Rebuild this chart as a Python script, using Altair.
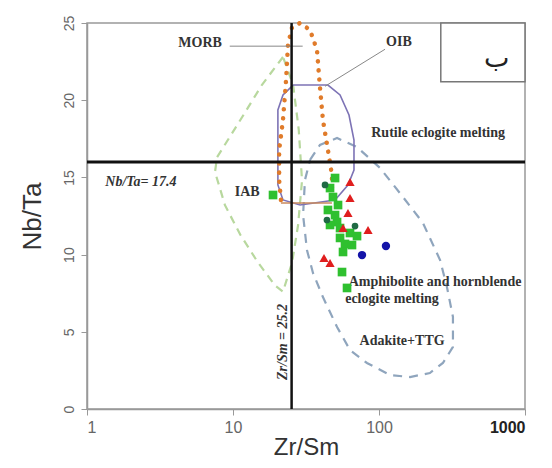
import altair as alt
import pandas as pd

# ---------------- data (Zr/Sm, Nb/Ta) ----------------
iab_x = [22.0, 15.8, 11.2, 7.77, 7.53, 8.81, 11.2, 14.8, 19.4, 22.0, 25.4, 27.9, 29.7, 28.2, 25.8, 22.0]
iab_y = [22.8, 21.0, 18.7, 16.3, 15.35, 13.2, 11.3, 9.5, 8.0, 7.6, 9.5, 11.9, 14.8, 18.1, 21.0, 22.8]

morb_x = [21.3, 20.7, 20.7, 22.0, 23.1, 23.8, 25.4, 28.8, 33.7, 37.6, 39.4, 41.3, 44.7, 47.6, 47.6]
morb_y = [13.54, 14.83, 16.77, 18.72, 21.31, 23.58, 24.74, 25.0, 24.55, 23.25, 20.85, 18.72, 16.77, 15.16, 13.54]
morb_base_x = [21.3, 47.6]
morb_base_y = [13.34, 13.34]

oib_x = [25.8, 44.7, 54.1, 62.3, 67.4, 67.4, 61.3, 50.0, 28.8, 22.0, 20.3, 20.3, 22.0, 25.8]
oib_y = [20.98, 20.98, 20.34, 19.04, 17.42, 15.48, 14.51, 13.54, 13.21, 13.54, 14.51, 19.37, 20.34, 20.98]

adk_x = [33.7, 39.4, 51.6, 70.7, 101.6, 146, 200, 262, 292, 321, 321, 274, 223, 163, 119, 82.7, 63.3, 51.6, 41.3, 35.3, 32.1, 30.2, 31.1, 33.7]
adk_y = [16.13, 17.1, 17.55, 16.97, 15.61, 13.73, 12.05, 9.65, 7.9, 5.96, 4.02, 2.98, 2.33, 2.07, 2.2, 2.98, 3.82, 5.31, 7.25, 8.81, 10.3, 12.56, 14.83, 16.13]

green_x = [18.8, 50.0, 48.4, 44.7, 50.0, 51.6, 54.1, 63.3, 70.7, 54.1, 58.5, 56.7, 55.8, 60.4, 46.2, 46.2, 65.3, 52.4]
green_y = [13.86, 14.96, 13.73, 12.89, 12.56, 12.11, 11.72, 11.40, 11.20, 11.08, 10.69, 10.17, 8.87, 7.84, 14.31, 11.92, 10.62, 13.21]
red_x = [63.3, 63.3, 61.3, 56.7, 84.1, 42.0, 46.2]
red_y = [14.70, 13.67, 12.70, 11.72, 11.59, 9.78, 9.46]
blue_x = [76.5, 111.6]
blue_y = [9.97, 10.56]
dark_x = [44.0, 68.5, 42.7]
dark_y = [12.24, 11.85, 14.51]

field_text = ["MORB", "OIB", "Rutile eclogite melting", "IAB",
              "Amphibolite and hornblende", "eclogite melting", "Adakite+TTG"]
field_tx = [5.95, 137, 254, 12.5, 242, 122.8, 144]
field_ty = [23.7, 23.77, 17.9, 14.05, 8.23, 7.12, 4.4]

ref_nbta = 16.0
ref_zrsm = 25.2
ref_text = ["Nb/Ta= 17.4", "Zr/Sm = 25.2"]
ref_tx = [2.34, 22.0]
ref_ty = [14.7, 4.34]

morb_ptr_x = [9.5, 30.0]
morb_ptr_y = [23.5, 23.5]
oib_ptr_x = [110.0, 42.7]
oib_ptr_y = [23.3, 20.9]

box_x = [265.0]
box_x2 = [1000.0]
box_y = [21.2]
box_y2 = [25.0]
box_label = ["ب"]
box_lx = [640.0]
box_ly = [22.7]

x_ticks = [1, 10, 100, 1000]
y_ticks = [0, 5, 10, 15, 20, 25]

# ---------------- helpers ----------------
xs = alt.Scale(type="log", domain=[1, 1000])
ys = alt.Scale(domain=[0, 25], nice=False, zero=False)
xaxis = alt.Axis(values=x_ticks, format="d", grid=False, tickSize=6, labelPadding=4,
                 labelFontSize=16, titlePadding=0, titleFontSize=24,
                 labelFontWeight=alt.ExprRef(expr="datum.value == 1000 ? 'bold' : 'normal'"),
                 labelColor=alt.ExprRef(expr="datum.value == 1000 ? '#222' : '#666'"))
yaxis = alt.Axis(values=y_ticks, grid=False, tickSize=6, labelPadding=5, labelAngle=-90,
                 labelFontSize=14, titlePadding=17, titleFontSize=26)


def X(f="x"):
    return alt.X(f, type="quantitative", scale=xs, axis=xaxis, title="Zr/Sm")


def Y(f="y"):
    return alt.Y(f, type="quantitative", scale=ys, axis=yaxis, title="Nb/Ta")


def path_df(xv, yv):
    return pd.DataFrame({"x": xv, "y": yv, "i": list(range(len(xv)))})


def path(xv, yv, **kw):
    return alt.Chart(path_df(xv, yv)).mark_line(**kw).encode(
        x=X(), y=Y(), order="i:Q")


layers = []
layers.append(path(iab_x, iab_y, color="#b8d89e", strokeWidth=2.2, strokeDash=[8, 6]))
layers.append(path(adk_x, adk_y, color="#8fa5bd", strokeWidth=2.2, strokeDash=[9, 7]))
layers.append(path(oib_x, oib_y, color="#7d73b5", strokeWidth=1.6))
layers.append(path(morb_x, morb_y, color="#e07b2a", strokeWidth=4.5, strokeDash=[0.1, 9], strokeCap="round"))
layers.append(path(morb_base_x, morb_base_y, color="#c88a5e", strokeWidth=1.5))
layers.append(path(morb_ptr_x, morb_ptr_y, color="#888888", strokeWidth=1))
layers.append(path(oib_ptr_x, oib_ptr_y, color="#888888", strokeWidth=1))

# reference lines
layers.append(alt.Chart(pd.DataFrame({"x": [1, 1000], "y": [ref_nbta, ref_nbta]})).mark_line(
    color="#111111", strokeWidth=3).encode(x=X(), y=Y()))
layers.append(alt.Chart(pd.DataFrame({"x": [ref_zrsm, ref_zrsm], "y": [0, 25], "i": [0, 1]})).mark_line(
    color="#111111", strokeWidth=2.5).encode(x=X(), y=Y(), order="i:Q"))

# box with label
layers.append(alt.Chart(pd.DataFrame({"x": box_x, "x2": box_x2, "y": box_y, "y2": box_y2})).mark_rect(
    fill="white", stroke="#777777", strokeWidth=1.5).encode(
    x=X(), x2="x2:Q", y=Y(), y2="y2:Q"))
layers.append(alt.Chart(pd.DataFrame({"x": box_lx, "y": box_ly, "t": box_label})).mark_text(
    font="DejaVu Sans", fontSize=27, color="#222222").encode(x=X(), y=Y(), text="t:N"))

# field labels
layers.append(alt.Chart(pd.DataFrame({"x": field_tx, "y": field_ty, "t": field_text})).mark_text(
    font="Liberation Serif", fontSize=14, fontWeight="bold", color="#333333").encode(
    x=X(), y=Y(), text="t:N"))

# reference labels
layers.append(alt.Chart(pd.DataFrame({"x": ref_tx[:1], "y": ref_ty[:1], "t": ref_text[:1]})).mark_text(
    font="Liberation Serif", fontSize=14, fontWeight="bold", fontStyle="italic", color="#333333").encode(
    x=X(), y=Y(), text="t:N"))
layers.append(alt.Chart(pd.DataFrame({"x": ref_tx[1:], "y": ref_ty[1:], "t": ref_text[1:]})).mark_text(
    font="Liberation Serif", fontSize=14, fontWeight="bold", fontStyle="italic", color="#333333",
    angle=270).encode(x=X(), y=Y(), text="t:N"))

# samples
layers.append(alt.Chart(pd.DataFrame({"x": green_x, "y": green_y})).mark_point(
    shape="square", filled=True, size=75, color="#2fc02f", opacity=1).encode(x=X(), y=Y()))
layers.append(alt.Chart(pd.DataFrame({"x": dark_x, "y": dark_y})).mark_point(
    shape="circle", filled=True, size=45, color="#1f6a44", opacity=1).encode(x=X(), y=Y()))
layers.append(alt.Chart(pd.DataFrame({"x": red_x, "y": red_y})).mark_point(
    shape="triangle-up", filled=True, size=85, color="#e01e1e", opacity=1).encode(x=X(), y=Y()))
layers.append(alt.Chart(pd.DataFrame({"x": blue_x, "y": blue_y})).mark_point(
    shape="circle", filled=True, size=70, color="#1414a8", opacity=1).encode(x=X(), y=Y()))

chart = alt.layer(*layers).properties(
    width=438, height=386,
    autosize=alt.AutoSizeParams(type="none"),
    padding={"left": 79, "top": 15, "right": 19, "bottom": 51},
).configure_view(stroke="#999999", strokeWidth=1.5).configure_axis(
    domainColor="#999999", tickColor="#999999", labelColor="#666666",
    labelFont="Liberation Sans", titleFont="Liberation Sans", titleFontWeight="normal",
    titleColor="#333333", domainWidth=1.5,
)

chart.save("out.html", embed_options={"renderer": "svg", "actions": False})
